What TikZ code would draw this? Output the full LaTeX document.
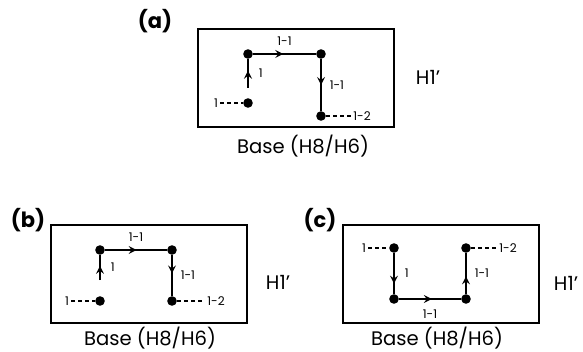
\documentclass[tikz,border=0pt]{standalone}
\usepackage{fontspec}
\setmainfont{Poppins}
\usetikzlibrary{positioning}
\usetikzlibrary{decorations.markings}
\tikzset{
    pathway/.style={
            x=0.5pt,y=-0.5pt,
            site/.style={circle,fill,inner sep=0pt,minimum size=4.8pt},
            frame/.style={draw,line width=1pt,minimum width=98pt,minimum height=49pt},
            bond/.style={line width=0.75pt,postaction={decorate},
                    decoration={markings,mark=at position ##1 with {\arrow{stealth}}}},
            bond/.default=0.5,
            lead/.style={line width=0.55pt,dash pattern=on 2pt off 1.5pt},
            tag/.style={font=\fontsize{6}{7}\selectfont,inner sep=1pt},
            caption/.style={font=\fontsize{9.8}{12}\selectfont,inner sep=0pt},
            panel/.style={font=\fontsize{10.5}{12}\selectfont\bfseries,inner sep=0pt}
        }
    }

\begin{document}
\begin{tikzpicture}[pathway]
                \useasboundingbox (0,0) rectangle (583,352);
                % (a)
                \node[panel] (la) at (155,21) {(a)};
                \node[frame] (boxa) at (296,78.5) {};
                \node[site] (a1) at (248,103) {};
                \node[site] (a2) at (248,54) {};
                \node[site] (a3) at (321,54) {};
                \node[site] (a4) at (321,116) {};
                \coordinate (a0) at (248,88);
                \draw [bond=0.6] (a0) -- (a2) node [tag, midway, right=4pt] {1};
                \draw [bond=0.48] (a2) -- (a3) node [tag, midway, above=3pt] {1-1};
                \draw [bond] (a3) -- (a4) node [tag, midway, right=3pt] {1-1};
                \node[tag] (ta1) at (216,103) {1};
                \node[tag] (ta2) at (362,116) {1-2};
                \draw [lead] (ta1) -- (a1);
                \draw [lead] (a4) -- (ta2);
                \node[caption] (ha) at (428,77) {H1'};
                \node[caption, anchor=base] (basea) at (303,154) {Base (H8/H6)};
                % (b)
                \node[panel] (lb) at (28,220) {(b)};
                \node[frame] (boxb) at (148.5,274) {};
                \node[site] (b1) at (100,301) {};
                \node[site] (b2) at (100,250) {};
                \node[site] (b3) at (172,250) {};
                \node[site] (b4) at (172,301) {};
                \coordinate (b0) at (100,280);
                \draw [bond=0.57] (b0) -- (b2) node [tag, midway, right=4pt] {1};
                \draw [bond=0.51] (b2) -- (b3) node [tag, midway, above=3pt] {1-1};
                \draw [bond=0.45] (b3) -- (b4) node [tag, midway, right=3pt] {1-1};
                \node[tag] (tb1) at (67,301) {1};
                \node[tag] (tb2) at (216,301) {1-2};
                \draw [lead] (tb1) -- (b1);
                \draw [lead] (b4) -- (tb2);
                \node[caption] (hb) at (278,282) {H1'};
                \node[caption, anchor=base] (baseb) at (150,345) {Base (H8/H6)};
                % (c)
                \node[panel] (lc) at (320,220) {(c)};
                \node[frame] (boxc) at (440.5,274) {};
                \node[site] (c1) at (394,248) {};
                \node[site] (c2) at (394,299) {};
                \node[site] (c3) at (466,299) {};
                \node[site] (c4) at (466,248) {};
                \draw [bond=0.75] (c1) -- (c2) node [tag, midway, right=4pt] {1};
                \draw [bond=0.53] (c2) -- (c3) node [tag, midway, below=4pt] {1-1};
                \draw [bond=0.43] (c3) -- (c4) node [tag, midway, right=3pt] {1-1};
                \node[tag] (tc1) at (364,248) {1};
                \node[tag] (tc2) at (508,248) {1-2};
                \draw [lead] (tc1) -- (c1);
                \draw [lead] (c4) -- (tc2);
                \node[caption] (hc) at (566,283) {H1'};
                \node[caption, anchor=base] (basec) at (437,345) {Base (H8/H6)};
            \end{tikzpicture}
\end{document}
